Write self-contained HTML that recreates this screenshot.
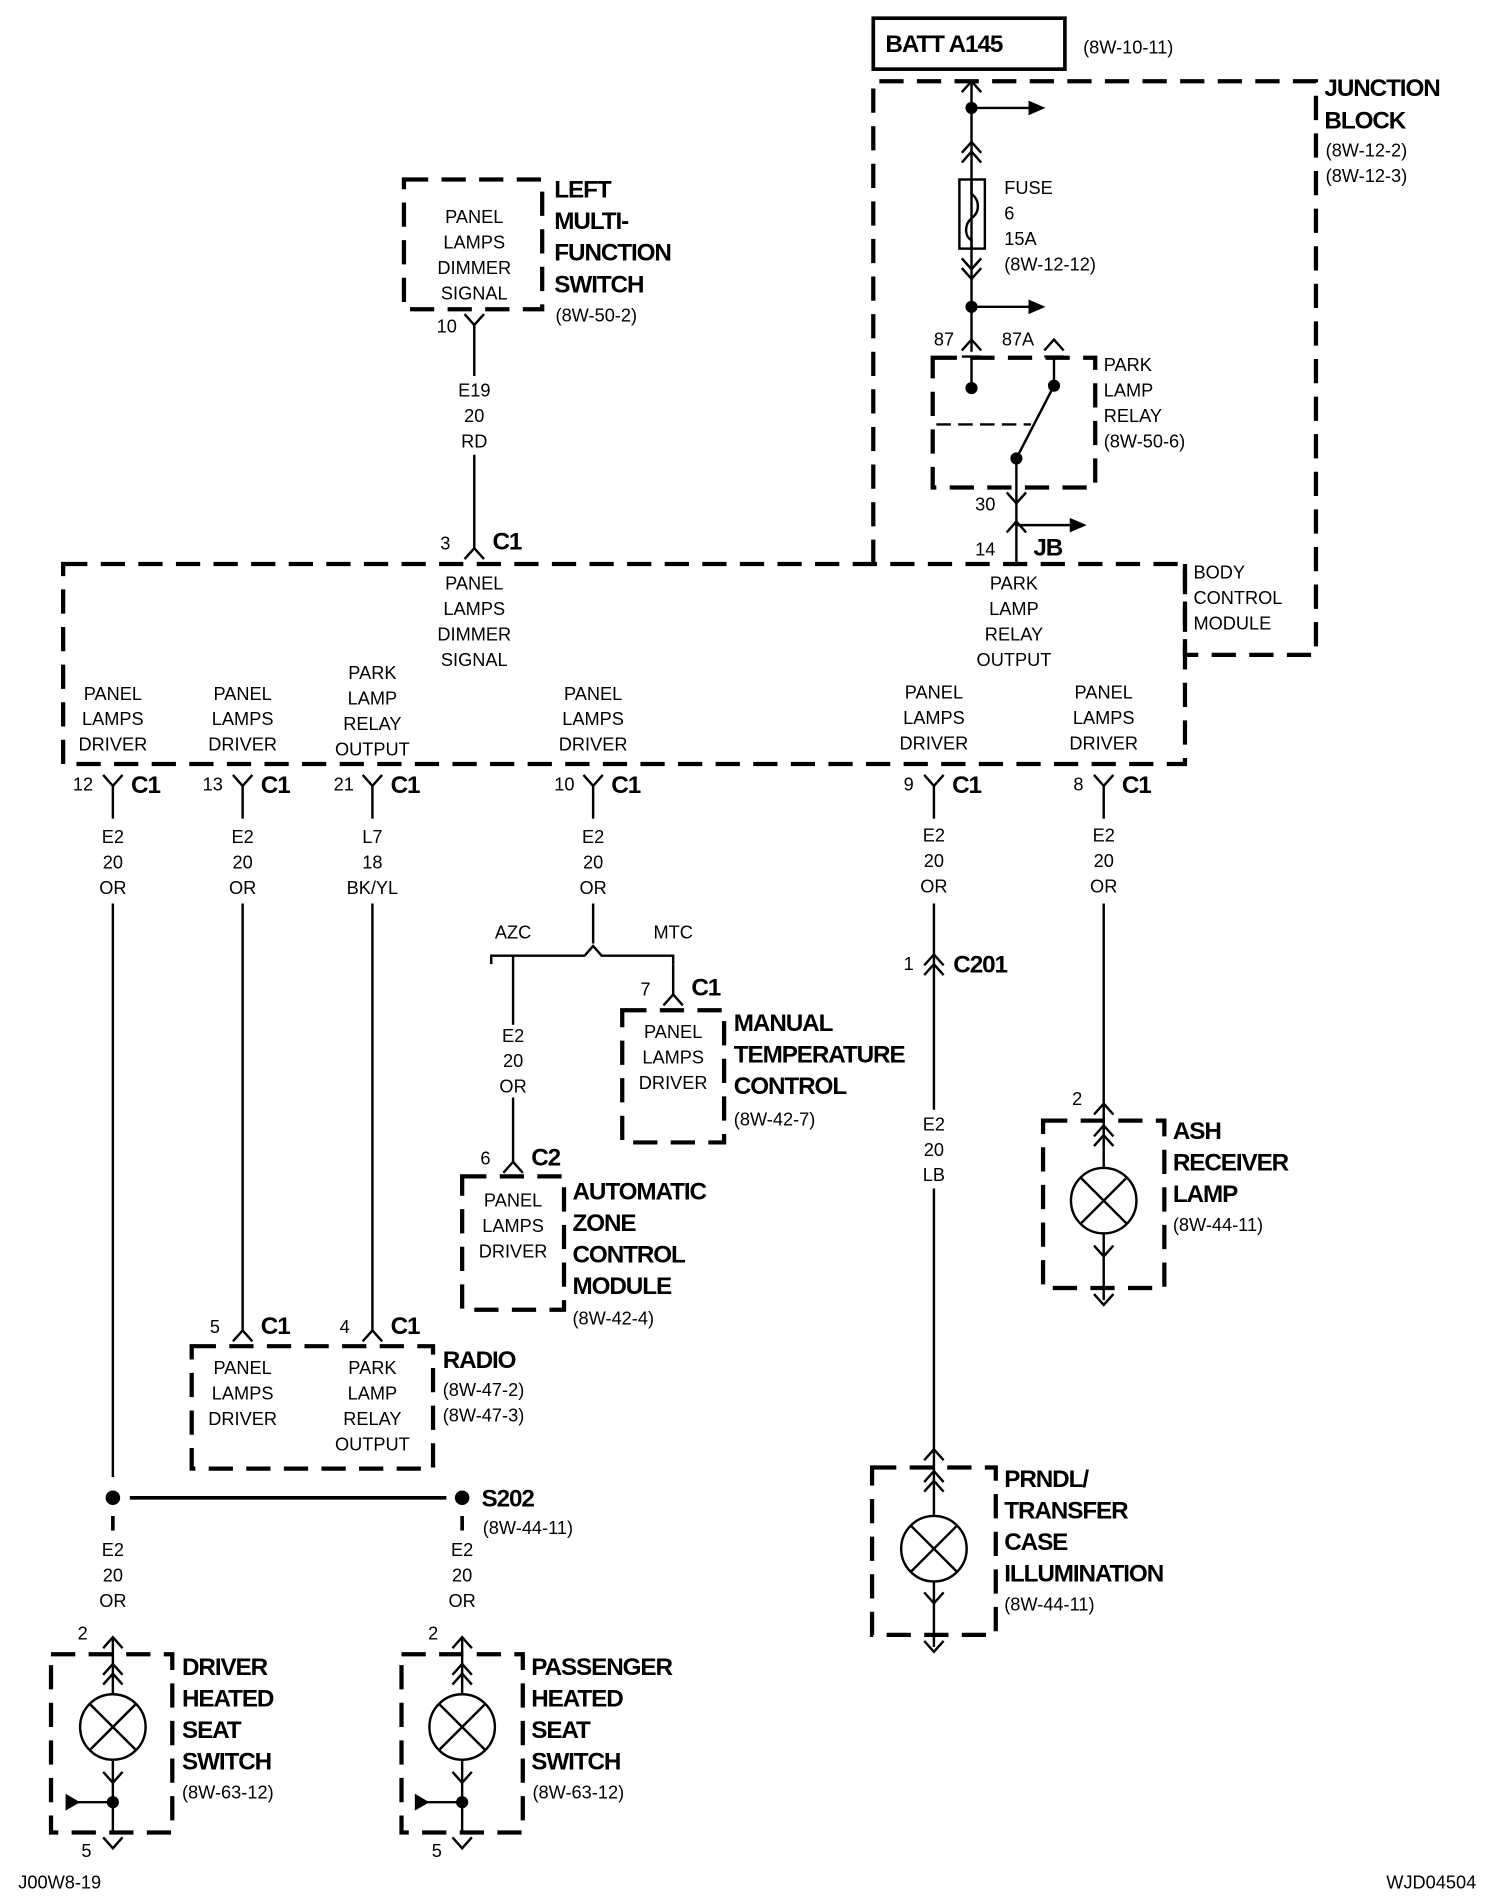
<!DOCTYPE html>
<html><head><meta charset="utf-8"><style>
html,body{margin:0;padding:0;background:#fff;}
svg{display:block;}
text{font-family:"Liberation Sans",Arial,sans-serif;fill:#000;}
.s{font-size:15px;}
.c{font-size:15px;text-anchor:middle;}
.b{font-size:20px;font-weight:bold;letter-spacing:-0.9px;}
.d{fill:none;stroke:#000;stroke-width:3.5;stroke-dasharray:20,11;}
.w{fill:none;stroke:#000;stroke-width:2;}
</style></head><body>
<svg width="1504" height="1898" viewBox="0 0 1240 1565" xmlns="http://www.w3.org/2000/svg">
<defs>
<g id="fy"><path d="M-8,-9 L0,0 L8,-9" class="w"/></g>
<g id="my"><path d="M-8,9 L0,0 L8,9" class="w"/></g>
<g id="lamp"><circle r="27" class="w"/><path d="M-19,-19 L19,19 M19,-19 L-19,19" class="w"/></g>
</defs>

<rect x="720" y="15" width="158" height="42" fill="none" stroke="#000" stroke-width="3"/>
<text x="730" y="43" class="b">BATT A145</text>
<text x="893" y="44" class="s">(8W-10-11)</text>

<path d="M720,465 L720,67 L1085,67 L1085,540 L977,540" class="d"/>
<text x="1092" y="79" class="b">JUNCTION</text>
<text x="1092" y="106" class="b">BLOCK</text>
<text x="1093" y="129" class="s">(8W-12-2)</text>
<text x="1093" y="150" class="s">(8W-12-3)</text>

<path d="M801,67 L801,290" class="w"/>
<use href="#my" x="801" y="67"/>
<circle cx="801" cy="89" r="5"/>
<path d="M801,89 L855,89" class="w"/><path d="M848,83 L862,89 L848,95Z"/>
<use href="#my" x="801" y="117"/><use href="#my" x="801" y="125"/>
<rect x="791" y="148" width="21" height="57" class="w" fill="#fff"/>
<path d="M801,148 L801,160 C808,165 808,175 801,180 C795,185 795,195 801,198 L801,205" class="w" fill="none"/>
<text x="828" y="160" class="s">FUSE</text>
<text x="828" y="181" class="s">6</text>
<text x="828" y="202" class="s">15A</text>
<text x="828" y="223" class="s">(8W-12-12)</text>
<use href="#fy" x="801" y="222"/><use href="#fy" x="801" y="230"/>
<circle cx="801" cy="253" r="5"/>
<path d="M801,253 L855,253" class="w"/><path d="M848,247 L862,253 L848,259Z"/>
<use href="#my" x="801" y="280"/>
<text x="770" y="285" class="s">87</text>
<text x="826" y="285" class="s">87A</text>
<use href="#my" x="869" y="280"/>
<path d="M793,294 L809,294 M801,294 L801,320" class="w"/>
<path d="M861,294 L877,294 M869,294 L869,318" class="w"/>
<rect x="769" y="295" width="134" height="107" class="d"/>
<circle cx="801" cy="320" r="5"/><circle cx="869" cy="318" r="5"/><circle cx="838" cy="378" r="5"/>
<path d="M869,318 L838,378" class="w"/>
<path d="M772,350 L850,350" fill="none" stroke="#000" stroke-width="2" stroke-dasharray="12,6"/>
<path d="M838,378 L838,465" class="w"/>
<text x="910" y="306" class="s">PARK</text>
<text x="910" y="327" class="s">LAMP</text>
<text x="910" y="348" class="s">RELAY</text>
<text x="910" y="369" class="s">(8W-50-6)</text>
<use href="#fy" x="838" y="415"/>
<text x="804" y="421" class="s">30</text>
<use href="#my" x="838" y="430"/>
<text x="804" y="458" class="s">14</text>
<text x="852" y="458" class="b">JB</text>
<path d="M838,433 L888,433" class="w"/><path d="M882,427 L896,433 L882,439Z"/>

<path d="M52,465 L977,465 L977,630 L52,630 Z" class="d"/>
<path d="M977,465 L977,540" class="d"/>
<text x="984" y="477" class="s">BODY</text>
<text x="984" y="498" class="s">CONTROL</text>
<text x="984" y="519" class="s">MODULE</text>
<text x="836" y="486" class="c">PARK</text>
<text x="836" y="507" class="c">LAMP</text>
<text x="836" y="528" class="c">RELAY</text>
<text x="836" y="549" class="c">OUTPUT</text>

<rect x="333" y="148" width="114" height="107" class="d"/>
<text x="391" y="184" class="c">PANEL</text>
<text x="391" y="205" class="c">LAMPS</text>
<text x="391" y="226" class="c">DIMMER</text>
<text x="391" y="247" class="c">SIGNAL</text>
<text x="457" y="163" class="b">LEFT</text>
<text x="457" y="189" class="b">MULTI-</text>
<text x="457" y="215" class="b">FUNCTION</text>
<text x="457" y="241" class="b">SWITCH</text>
<text x="458" y="265" class="s">(8W-50-2)</text>
<use href="#fy" x="391" y="268"/>
<text x="360" y="274" class="s">10</text>
<path d="M391,268 L391,310 M391,375 L391,452" class="w"/>
<text x="391" y="327" class="c">E19</text>
<text x="391" y="348" class="c">20</text>
<text x="391" y="369" class="c">RD</text>
<use href="#my" x="391" y="452"/>
<text x="363" y="453" class="s">3</text>
<text x="406" y="453" class="b">C1</text>
<text x="391" y="486" class="c">PANEL</text>
<text x="391" y="507" class="c">LAMPS</text>
<text x="391" y="528" class="c">DIMMER</text>
<text x="391" y="549" class="c">SIGNAL</text>

<text x="93" y="577" class="c">PANEL</text><text x="93" y="598" class="c">LAMPS</text><text x="93" y="619" class="c">DRIVER</text>
<text x="200" y="577" class="c">PANEL</text><text x="200" y="598" class="c">LAMPS</text><text x="200" y="619" class="c">DRIVER</text>
<text x="307" y="560" class="c">PARK</text><text x="307" y="581" class="c">LAMP</text><text x="307" y="602" class="c">RELAY</text><text x="307" y="623" class="c">OUTPUT</text>
<text x="489" y="577" class="c">PANEL</text><text x="489" y="598" class="c">LAMPS</text><text x="489" y="619" class="c">DRIVER</text>
<text x="770" y="576" class="c">PANEL</text><text x="770" y="597" class="c">LAMPS</text><text x="770" y="618" class="c">DRIVER</text>
<text x="910" y="576" class="c">PANEL</text><text x="910" y="597" class="c">LAMPS</text><text x="910" y="618" class="c">DRIVER</text>

<use href="#fy" x="93" y="648"/><text x="60" y="652" class="s">12</text><text x="108" y="654" class="b">C1</text>
<use href="#fy" x="200" y="648"/><text x="167" y="652" class="s">13</text><text x="215" y="654" class="b">C1</text>
<use href="#fy" x="307" y="648"/><text x="275" y="652" class="s">21</text><text x="322" y="654" class="b">C1</text>
<use href="#fy" x="489" y="648"/><text x="457" y="652" class="s">10</text><text x="504" y="654" class="b">C1</text>
<use href="#fy" x="770" y="648"/><text x="745" y="652" class="s">9</text><text x="785" y="654" class="b">C1</text>
<use href="#fy" x="910" y="648"/><text x="885" y="652" class="s">8</text><text x="925" y="654" class="b">C1</text>

<path d="M93,648 L93,675 M200,648 L200,675 M307,648 L307,675 M489,648 L489,675 M770,648 L770,675 M910,648 L910,675" class="w"/>
<text x="93" y="695" class="c">E2</text><text x="93" y="716" class="c">20</text><text x="93" y="737" class="c">OR</text>
<text x="200" y="695" class="c">E2</text><text x="200" y="716" class="c">20</text><text x="200" y="737" class="c">OR</text>
<text x="307" y="695" class="c">L7</text><text x="307" y="716" class="c">18</text><text x="307" y="737" class="c">BK/YL</text>
<text x="489" y="695" class="c">E2</text><text x="489" y="716" class="c">20</text><text x="489" y="737" class="c">OR</text>
<text x="770" y="694" class="c">E2</text><text x="770" y="715" class="c">20</text><text x="770" y="736" class="c">OR</text>
<text x="910" y="694" class="c">E2</text><text x="910" y="715" class="c">20</text><text x="910" y="736" class="c">OR</text>

<path d="M93,745 L93,1218 M200,745 L200,1097 M307,745 L307,1097" class="w"/>

<path d="M489,745 L489,778 M405,795 L405,788 L482,788 L489,780 L496,788 L555,788 L555,795" class="w"/>
<text x="423" y="774" class="c">AZC</text>
<text x="555" y="774" class="c">MTC</text>
<path d="M423,788 L423,845 M423,905 L423,958" class="w"/>
<text x="423" y="859" class="c">E2</text><text x="423" y="880" class="c">20</text><text x="423" y="901" class="c">OR</text>
<use href="#my" x="423" y="958"/><text x="396" y="960" class="s">6</text><text x="438" y="961" class="b">C2</text>
<rect x="381" y="970" width="84" height="110" class="d"/>
<text x="423" y="995" class="c">PANEL</text><text x="423" y="1016" class="c">LAMPS</text><text x="423" y="1037" class="c">DRIVER</text>
<text x="472" y="989" class="b">AUTOMATIC</text>
<text x="472" y="1015" class="b">ZONE</text>
<text x="472" y="1041" class="b">CONTROL</text>
<text x="472" y="1067" class="b">MODULE</text>
<text x="472" y="1092" class="s">(8W-42-4)</text>

<path d="M555,795 L555,820" class="w"/>
<use href="#my" x="555" y="820"/><text x="528" y="821" class="s">7</text><text x="570" y="821" class="b">C1</text>
<rect x="513" y="833" width="84" height="109" class="d"/>
<text x="555" y="856" class="c">PANEL</text><text x="555" y="877" class="c">LAMPS</text><text x="555" y="898" class="c">DRIVER</text>
<text x="605" y="850" class="b">MANUAL</text>
<text x="605" y="876" class="b">TEMPERATURE</text>
<text x="605" y="902" class="b">CONTROL</text>
<text x="605" y="928" class="s">(8W-42-7)</text>

<use href="#my" x="200" y="1097"/><text x="173" y="1099" class="s">5</text><text x="215" y="1100" class="b">C1</text>
<use href="#my" x="307" y="1097"/><text x="280" y="1099" class="s">4</text><text x="322" y="1100" class="b">C1</text>
<rect x="158" y="1110" width="199" height="101" class="d"/>
<text x="200" y="1133" class="c">PANEL</text><text x="200" y="1154" class="c">LAMPS</text><text x="200" y="1175" class="c">DRIVER</text>
<text x="307" y="1133" class="c">PARK</text><text x="307" y="1154" class="c">LAMP</text><text x="307" y="1175" class="c">RELAY</text><text x="307" y="1196" class="c">OUTPUT</text>
<text x="365" y="1128" class="b">RADIO</text>
<text x="365" y="1151" class="s">(8W-47-2)</text>
<text x="365" y="1172" class="s">(8W-47-3)</text>

<circle cx="93" cy="1235" r="6"/>
<path d="M107,1235 L368,1235" fill="none" stroke="#000" stroke-width="3"/>
<circle cx="381" cy="1235" r="6"/>
<text x="397" y="1242" class="b">S202</text>
<text x="398" y="1265" class="s">(8W-44-11)</text>
<path d="M93,1250 L93,1262 M381,1250 L381,1262" fill="none" stroke="#000" stroke-width="3"/>
<text x="93" y="1283" class="c">E2</text><text x="93" y="1304" class="c">20</text><text x="93" y="1325" class="c">OR</text>
<text x="381" y="1283" class="c">E2</text><text x="381" y="1304" class="c">20</text><text x="381" y="1325" class="c">OR</text>

<use href="#my" x="93" y="1350"/><text x="64" y="1352" class="s">2</text>
<use href="#my" x="93" y="1372"/><use href="#my" x="93" y="1380"/>
<path d="M93,1350 L93,1397 M93,1451 L93,1512" class="w"/>
<rect x="42" y="1364" width="100" height="147" class="d"/>
<use href="#lamp" x="93" y="1424"/>
<use href="#fy" x="93" y="1470"/>
<circle cx="93" cy="1486" r="5"/>
<path d="M60,1486 L93,1486" class="w"/><path d="M54,1479 L54,1493 L66,1486Z"/>
<use href="#fy" x="93" y="1524"/><text x="67" y="1531" class="s">5</text>
<text x="150" y="1381" class="b">DRIVER</text>
<text x="150" y="1407" class="b">HEATED</text>
<text x="150" y="1433" class="b">SEAT</text>
<text x="150" y="1459" class="b">SWITCH</text>
<text x="150" y="1483" class="s">(8W-63-12)</text>

<use href="#my" x="381" y="1350"/><text x="353" y="1352" class="s">2</text>
<use href="#my" x="381" y="1372"/><use href="#my" x="381" y="1380"/>
<path d="M381,1350 L381,1397 M381,1451 L381,1512" class="w"/>
<rect x="331" y="1364" width="100" height="147" class="d"/>
<use href="#lamp" x="381" y="1424"/>
<use href="#fy" x="381" y="1470"/>
<circle cx="381" cy="1486" r="5"/>
<path d="M348,1486 L381,1486" class="w"/><path d="M342,1479 L342,1493 L354,1486Z"/>
<use href="#fy" x="381" y="1524"/><text x="356" y="1531" class="s">5</text>
<text x="438" y="1381" class="b">PASSENGER</text>
<text x="438" y="1407" class="b">HEATED</text>
<text x="438" y="1433" class="b">SEAT</text>
<text x="438" y="1459" class="b">SWITCH</text>
<text x="439" y="1483" class="s">(8W-63-12)</text>

<path d="M770,745 L770,915 M770,980 L770,1249" class="w"/>
<use href="#my" x="770" y="787"/><use href="#my" x="770" y="795"/>
<text x="745" y="800" class="s">1</text>
<text x="786" y="802" class="b">C201</text>
<text x="770" y="932" class="c">E2</text><text x="770" y="953" class="c">20</text><text x="770" y="974" class="c">LB</text>
<use href="#my" x="770" y="1195"/>
<use href="#my" x="770" y="1213"/><use href="#my" x="770" y="1221"/>
<rect x="719" y="1210" width="102" height="138" class="d"/>
<use href="#lamp" x="770" y="1277"/>
<path d="M770,1304 L770,1358" class="w"/>
<use href="#fy" x="770" y="1322"/>
<use href="#fy" x="770" y="1362"/>
<text x="828" y="1226" class="b">PRNDL/</text>
<text x="828" y="1252" class="b">TRANSFER</text>
<text x="828" y="1278" class="b">CASE</text>
<text x="828" y="1304" class="b">ILLUMINATION</text>
<text x="828" y="1328" class="s">(8W-44-11)</text>

<path d="M910,745 L910,910 M910,910 L910,963 M910,1017 L910,1072" class="w"/>
<use href="#my" x="910" y="910"/><text x="884" y="911" class="s">2</text>
<use href="#my" x="910" y="928"/><use href="#my" x="910" y="936"/>
<rect x="860" y="924" width="100" height="138" class="d"/>
<use href="#lamp" x="910" y="990"/>
<use href="#fy" x="910" y="1036"/>
<use href="#fy" x="910" y="1076"/>
<text x="967" y="939" class="b">ASH</text>
<text x="967" y="965" class="b">RECEIVER</text>
<text x="967" y="991" class="b">LAMP</text>
<text x="967" y="1015" class="s">(8W-44-11)</text>

<text x="15" y="1557" class="s">J00W8-19</text>
<text x="1143" y="1557" class="s">WJD04504</text>
</svg>
</body></html>
